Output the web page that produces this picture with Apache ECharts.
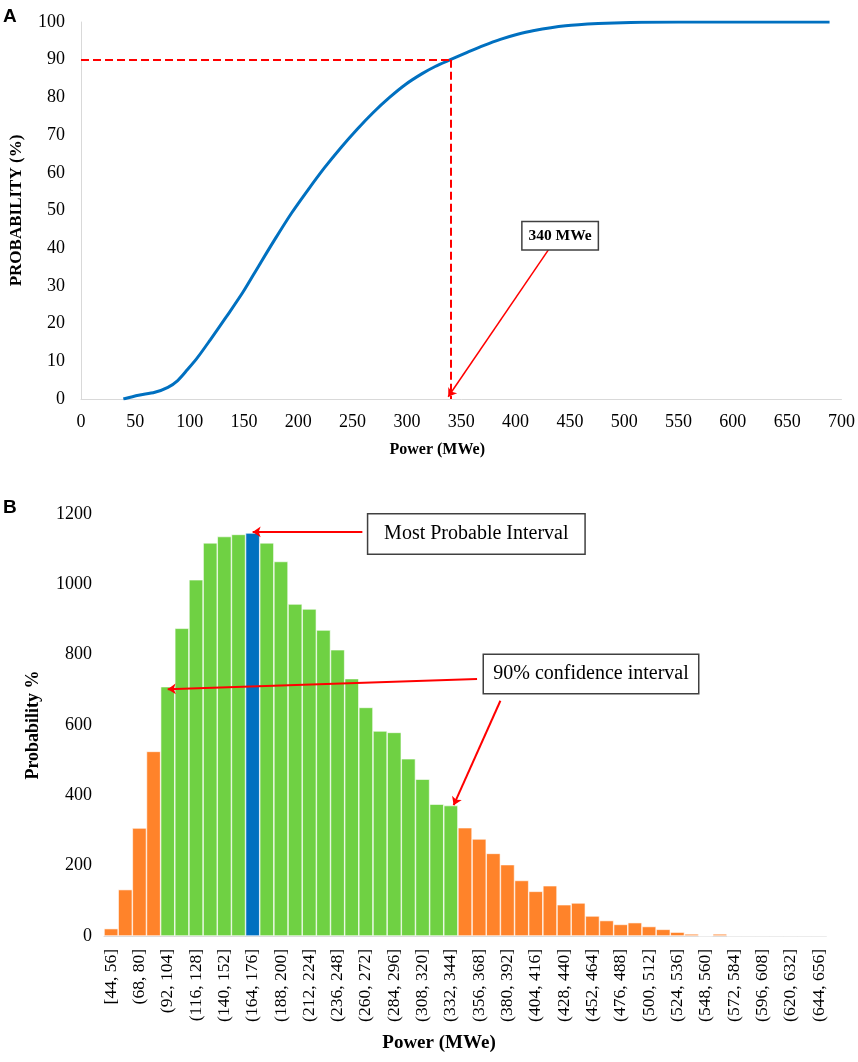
<!DOCTYPE html>
<html>
<head>
<meta charset="utf-8">
<script src="https://cdn.jsdelivr.net/npm/echarts@6/dist/echarts.min.js"></script>
<style>
  html, body { margin: 0; padding: 0; background: #fff; }
  #main { width: 858px; height: 1062px; }
</style>
</head>
<body>
<div id="main"></div>
<script>
// panel A: cumulative probability curve
var cdfPower = [39, 53, 68, 80, 89, 98, 107, 119, 134, 149, 164, 179, 194, 209, 224, 239, 254, 269, 284, 299, 314, 326, 340, 356, 371, 386, 401, 416, 446, 476, 506, 550, 600, 650, 689];
var cdfProb = [0, 1.0, 1.8, 3.1, 4.9, 7.8, 10.9, 15.7, 21.9, 28.3, 35.5, 42.6, 49.4, 55.5, 61.3, 66.6, 71.5, 76.0, 80.0, 83.5, 86.3, 88.2, 90, 92.0, 93.8, 95.4, 96.7, 97.7, 99.0, 99.6, 99.9, 100, 100, 100, 100];

// panel B: histogram
var binLabels = ['[44, 56]', '(56, 68]', '(68, 80]', '(80, 92]', '(92, 104]', '(104, 116]', '(116, 128]', '(128, 140]',
  '(140, 152]', '(152, 164]', '(164, 176]', '(176, 188]', '(188, 200]', '(200, 212]', '(212, 224]', '(224, 236]',
  '(236, 248]', '(248, 260]', '(260, 272]', '(272, 284]', '(284, 296]', '(296, 308]', '(308, 320]', '(320, 332]',
  '(332, 344]', '(344, 356]', '(356, 368]', '(368, 380]', '(380, 392]', '(392, 404]', '(404, 416]', '(416, 428]',
  '(428, 440]', '(440, 452]', '(452, 464]', '(464, 476]', '(476, 488]', '(488, 500]', '(500, 512]', '(512, 524]',
  '(524, 536]', '(536, 548]', '(548, 560]', '(560, 572]', '(572, 584]', '(584, 596]', '(596, 608]', '(608, 620]',
  '(620, 632]', '(632, 644]', '(644, 656]'];
var binCounts = [21, 132, 307, 525, 709, 875, 1013, 1118, 1136, 1142, 1146, 1118, 1065, 944, 930, 870, 814, 732, 650, 583,
  579, 504, 446, 375, 371, 308, 276, 235, 203, 158, 127, 143, 89, 94, 57, 44, 33, 38, 27, 19, 11, 6, 0, 6, 0, 0, 0, 0, 0, 0, 0];
var modeBin = 10;          // most probable interval
var ciFirst = 4, ciLast = 24; // 90% confidence interval

var serif = 'Liberation Serif, Times New Roman, serif';
var gray = '#d9d9d9';
var red = '#ff0000';

var barData = binCounts.map(function (v, i) {
  var c = '#ff832a';
  if (i >= ciFirst && i <= ciLast) c = '#6fd143';
  if (i === modeBin) c = '#0070c0';
  return { value: v, itemStyle: { color: c } };
});

// text box drawn as a label with border
function box(coord, text, w, h, size, bold) {
  return {
    coord: coord, symbol: 'rect', symbolSize: 1,
    itemStyle: { color: 'rgba(0,0,0,0)' },
    label: {
      show: true, position: 'inside', formatter: text,
      fontFamily: serif, fontSize: size, fontWeight: bold ? 'bold' : 'normal', color: '#000',
      width: w, height: h, lineHeight: h, align: 'center', verticalAlign: 'middle',
      backgroundColor: '#fff', borderColor: '#404040', borderWidth: 1.5, padding: 0
    }
  };
}

var chart = echarts.init(document.getElementById('main'));
chart.setOption({
  animation: false,
  backgroundColor: '#fff',
  textStyle: { fontFamily: serif, color: '#000' },
  title: [
    { text: 'A', left: 3, top: 7, padding: 0, textStyle: { fontFamily: 'Liberation Sans, Arial, sans-serif', fontWeight: 'bold', fontSize: 19, color: '#000' } },
    { text: 'B', left: 3, top: 498, padding: 0, textStyle: { fontFamily: 'Liberation Sans, Arial, sans-serif', fontWeight: 'bold', fontSize: 19, color: '#000' } }
  ],
  grid: [
    { left: 68, right: 12, top: 22, height: 377 },
    { left: 104, right: 32, top: 514, height: 422 }
  ],
  xAxis: [
    {
      gridIndex: 0, type: 'value', min: 0, max: 700, interval: 50,
      name: 'Power (MWe)', nameLocation: 'middle', nameGap: 43,
      nameTextStyle: { fontFamily: serif, fontWeight: 'bold', fontSize: 16, color: '#000', padding: [0, 48, 0, 0] },
      axisLine: { lineStyle: { color: gray, width: 1 } },
      axisTick: { show: false },
      splitLine: { show: false },
      axisLabel: { fontFamily: serif, fontSize: 18, color: '#000', margin: 14 }
    },
    {
      gridIndex: 1, type: 'category', data: binLabels,
      name: 'Power (MWe)', nameLocation: 'middle', nameGap: 98,
      nameTextStyle: { fontFamily: serif, fontWeight: 'bold', fontSize: 19, color: '#000', padding: [0, 52, 0, 0] },
      axisLine: { lineStyle: { color: gray, width: 1 } },
      axisTick: { show: false },
      axisLabel: { interval: 1, rotate: 90, fontFamily: serif, fontSize: 17.5, color: '#000', margin: 13 }
    },
    { gridIndex: 1, type: 'value', min: -0.5, max: 50.5, show: false }
  ],
  yAxis: [
    {
      gridIndex: 0, type: 'value', min: 0, max: 100, interval: 10,
      name: 'PROBABILITY (%)', nameLocation: 'middle', nameGap: 56,
      nameTextStyle: { fontFamily: serif, fontWeight: 'bold', fontSize: 17, color: '#000' },
      axisLine: { show: true, lineStyle: { color: gray, width: 1 } },
      axisTick: { show: false },
      splitLine: { show: false },
      axisLabel: { fontFamily: serif, fontSize: 18, color: '#000', margin: 16 }
    },
    {
      gridIndex: 1, type: 'value', min: 0, max: 1200, interval: 200,
      name: 'Probability %', nameLocation: 'middle', nameGap: 62,
      nameTextStyle: { fontFamily: serif, fontWeight: 'bold', fontSize: 18, color: '#000' },
      axisLine: { show: false },
      axisTick: { show: false },
      splitLine: { show: false },
      axisLabel: { fontFamily: serif, fontSize: 18, color: '#000', margin: 12, formatter: function (v) { return String(v); } }
    }
  ],
  series: [
    {
      type: 'line', xAxisIndex: 0, yAxisIndex: 0,
      data: cdfPower.map(function (p, i) { return [p, cdfProb[i]]; }),
      smooth: 0.3, showSymbol: false,
      lineStyle: { color: '#0070c0', width: 3 },
      markLine: {
        silent: true, symbol: ['none', 'none'],
        label: { show: false },
        data: [
          [{ coord: [0, 90], lineStyle: { color: red, width: 2, type: [8, 4] } }, { coord: [340, 90] }],
          [{ coord: [340, 90], lineStyle: { color: red, width: 2, type: [8, 4] } }, { coord: [340, 0] }],
          [{ coord: [431, 39.9], lineStyle: { color: red, width: 1.5, type: 'solid' } }, { coord: [338, 0.6], symbol: 'arrow', symbolSize: 8 }]
        ]
      },
      markPoint: {
        silent: true,
        data: [box([441, 43.3], '340 MWe', 75, 27, 15.5, true)]
      }
    },
    {
      type: 'bar', xAxisIndex: 1, yAxisIndex: 1,
      data: barData, barCategoryGap: '0%',
      itemStyle: { borderColor: '#ffffff', borderWidth: 0.6 }
    },
    {
      type: 'scatter', xAxisIndex: 2, yAxisIndex: 1, data: [],
      markLine: {
        silent: true, symbol: ['none', 'arrow'], symbolSize: 8,
        label: { show: false },
        lineStyle: { color: red, width: 2, type: 'solid' },
        data: [
          [{ coord: [17.75, 1149] }, { coord: [10.0, 1149] }],
          [{ coord: [25.85, 731] }, { coord: [4.0, 702] }],
          [{ coord: [27.5, 669] }, { coord: [24.2, 372] }]
        ]
      },
      markPoint: {
        silent: true,
        data: [
          box([25.8, 1143], 'Most Probable Interval', 216, 39, 20, false),
          box([33.9, 745], '90% confidence interval', 214, 38, 20, false)
        ]
      }
    }
  ]
});
</script>
</body>
</html>
